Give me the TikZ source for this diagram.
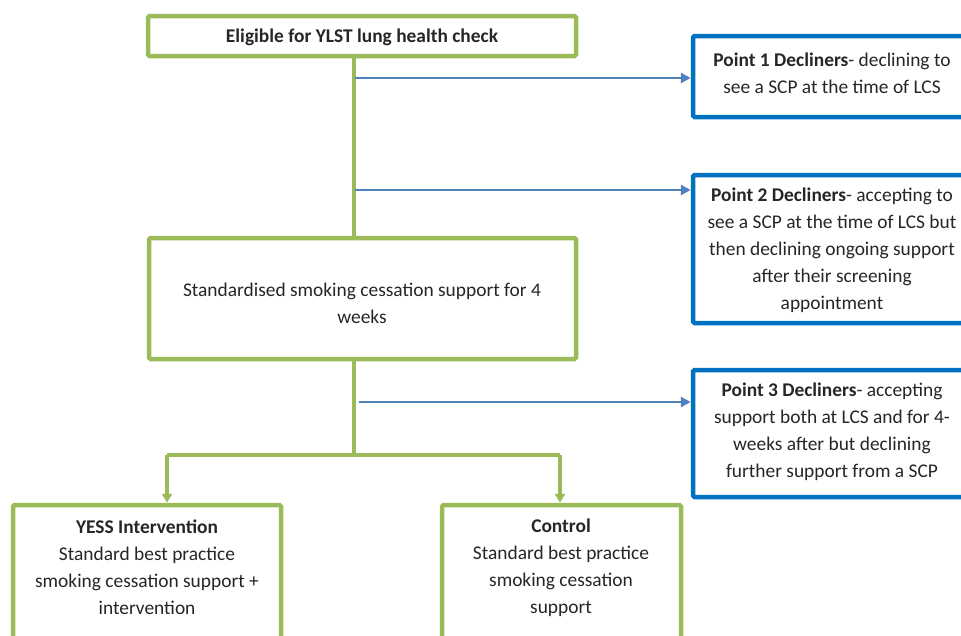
\documentclass[tikz,border=0pt]{standalone}
\usepackage{fontspec}
\setmainfont{Carlito}
\usetikzlibrary{arrows.meta}
\definecolor{grn}{HTML}{9BBB59}
\definecolor{blu}{HTML}{0070C0}
\definecolor{arr}{HTML}{4F81BD}
\definecolor{txt}{HTML}{262626}
\begin{document}
\begin{tikzpicture}[x=1pt,y=-1pt,
  gbox/.style={draw=grn,line width=4.5pt,rounded corners=1.5pt,inner sep=0pt,fill=white},
  bbox/.style={draw=blu,line width=4.5pt,rounded corners=1.5pt,inner sep=0pt,fill=white},
  lbl/.style={text=txt,font=\fontsize{19.4}{27}\selectfont,align=center,inner sep=0pt},
  gline/.style={draw=grn,line width=4.5pt},
  barrow/.style={draw=arr,line width=2.8pt,-{Triangle[length=10pt,width=10pt]}},
  garrow/.style={draw=grn,line width=3.5pt,-{Triangle[length=9pt,width=10pt]}}]
\useasboundingbox (0,0) rectangle (961,635);
\begin{scope}
\clip (0,0) rectangle (961,635);
% connector points
\coordinate (v1) at (354,78);
\coordinate (v2) at (354,190);
\coordinate (v3) at (354,402);
\coordinate (br) at (354,455);
\coordinate (bl) at (167,455);
\coordinate (brr) at (560,455);
% boxes
\node[gbox,minimum width=428,minimum height=40] (elig) at (362,36) {};
\node[gbox,minimum width=427,minimum height=121] (std) at (362.5,298.5) {};
\node[bbox,minimum width=279,minimum height=81] (p1) at (832.5,76.5) {};
\node[bbox,minimum width=279,minimum height=148] (p2) at (832.5,249) {};
\node[bbox,minimum width=279,minimum height=127] (p3) at (832.5,433.5) {};
\node[gbox,minimum width=268,minimum height=160] (yess) at (147,585) {};
\node[gbox,minimum width=239,minimum height=160] (ctrl) at (561.5,585) {};
% green trunk
\draw[gline] (elig.south -| v1) -- (std.north -| v1);
\draw[gline] (std.south -| br) -- (br);
\draw[gline] (bl) -- (brr);
\draw[garrow] (bl) -- (yess.north -| bl);
\draw[garrow] (brr) -- (ctrl.north -| brr);
% blue arrows
\draw[barrow] ([xshift=1pt]v1) -- (p1.west |- v1);
\draw[barrow] ([xshift=1pt]v2) -- (p2.west |- v2);
\draw[barrow] ([xshift=5pt]v3) -- (p3.west |- v3);
% texts
\node[lbl,font=\fontsize{19.4}{27}\selectfont\bfseries] (t0) at (362,37) {Eligible for YLST lung health check};
\node[lbl] (t1) at (832,73) {\textbf{Point 1 Decliners}- declining to\\see a SCP at the time of LCS};
\node[lbl] (t2) at (832,250) {\textbf{Point 2 Decliners}- accepting to\\see a SCP at the time of LCS but\\then declining ongoing support\\after their screening\\appointment};
\node[lbl] (t3) at (832,432) {\textbf{Point 3 Decliners}- accepting\\support both at LCS and for 4-\\weeks after but declining\\further support from a SCP};
\node[lbl] (t4) at (362,303) {Standardised smoking cessation support for 4\\weeks};
\node[lbl] (t5) at (147,567) {\textbf{YESS Intervention}\\Standard best practice\\smoking cessation support +\\intervention};
\node[lbl] (t6) at (561,568) {\textbf{Control}\\Standard best practice\\smoking cessation\\support};
\end{scope}
\end{tikzpicture}
\end{document}
